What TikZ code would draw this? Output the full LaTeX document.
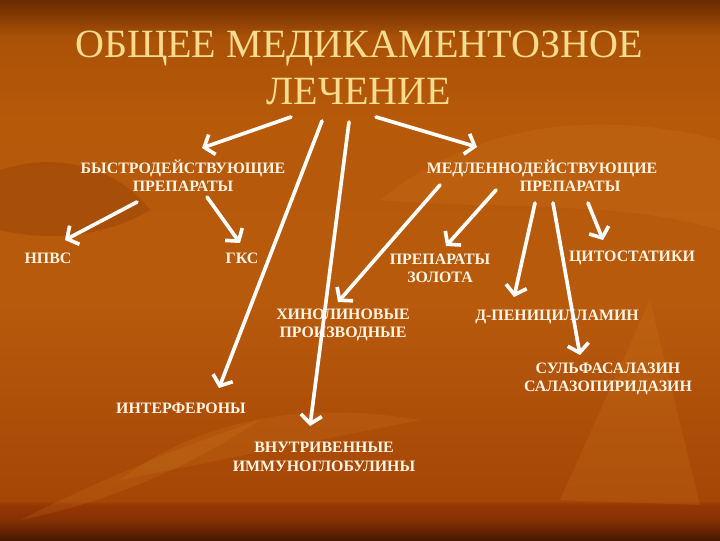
\documentclass[tikz,border=0pt]{standalone}
\usepackage{fontspec}
\setmainfont{Liberation Serif}
\usetikzlibrary{arrows.meta}
\usetikzlibrary{calc}
\definecolor{bgtop}{HTML}{6A2A00}
\definecolor{bgupper}{HTML}{B65909}
\definecolor{bgmid}{HTML}{B85A0C}
\definecolor{bglow}{HTML}{A54606}
\definecolor{bgband}{HTML}{973704}
\definecolor{bgbottom}{HTML}{4A1800}
\definecolor{leaflight}{HTML}{D98A2A}
\definecolor{leafdark}{HTML}{8A3A06}
\definecolor{titlegold}{HTML}{F6DC8E}
\definecolor{labeltext}{HTML}{FFF4E2}
\pgfdeclareverticalshading{slidebg}{100bp}{color(0bp)=(bgbottom); color(25bp)=(bgbottom);
  color(26.9bp)=(bgband!80!bgbottom); color(28.3bp)=(bgband); color(28.6bp)=(bglow);
  color(47bp)=(bgmid); color(64bp)=(bgupper); color(71.5bp)=(bgupper!85!bgtop);
  color(75bp)=(bgtop); color(100bp)=(bgtop)}
\tikzset{lbl/.style = {text=labeltext, font=\bfseries\fontsize{11.3}{13}\selectfont,
                       align=center, inner sep=0}}
\tikzset{arr/.style = {draw=white, line width=2.6pt, line cap=round,
                       -{Straight Barb[length=6pt, width=15pt, line width=2.6pt]}}}
\tikzset{leaf/.style = {fill=leaflight, opacity=0.16}}

\begin{document}
\begin{tikzpicture}[x=0.025cm, y=-0.025cm]
  \shade [shading=slidebg] (0, 0) rectangle (720, 540);
  \useasboundingbox (0, 0) rectangle (720, 540);

  \fill [leaf] (380, 200) .. controls (480, 120) and (600, 110) .. (720, 140) -- (720, 230) .. controls (620, 200) and (500, 210) .. cycle;
  \fill [leaf] (560, 500) -- (650, 300) -- (700, 505) -- cycle;
  \fill [leaf] (120, 480) .. controls (200, 420) and (300, 400) .. (420, 420) .. controls (320, 440) and (220, 460) .. cycle;
  \fill [fill=leafdark, opacity=0.35] (0, 170) .. controls (60, 150) and (120, 170) .. (150, 210) .. controls (100, 240) and (40, 240) .. (0, 230) -- cycle;
  \fill [leaf] (20, 520) .. controls (120, 470) and (200, 440) .. (260, 420) .. controls (200, 460) and (120, 500) .. cycle;

  \node [text=titlegold, font=\fontsize{28.5}{33.3}\selectfont, align=center, inner sep=0, anchor=south] (title) at (359, 105)
        {ОБЩЕЕ МЕДИКАМЕНТОЗНОЕ\\ЛЕЧЕНИЕ};

  \node [lbl] (fast) at (183, 176) {БЫСТРОДЕЙСТВУЮЩИЕ\\ПРЕПАРАТЫ};
  \node [lbl] (slow) at (542, 176) {МЕДЛЕННОДЕЙСТВУЮЩИЕ\\\hspace*{40pt}ПРЕПАРАТЫ};
  \node [lbl] (npvs) at (48, 258) {НПВС};
  \node [lbl] (gks) at (242, 258) {ГКС};
  \node [lbl] (gold) at (440, 268) {ПРЕПАРАТЫ\\ЗОЛОТА};
  \node [lbl] (cyto) at (632, 258) {ЦИТОСТАТИКИ};
  \node [lbl] (quin) at (343, 325) {ХИНОЛИНОВЫЕ\\ПРОИЗВОДНЫЕ};
  \node [lbl] (penic) at (557, 317) {Д-ПЕНИЦИЛЛАМИН};
  \node [lbl] (sulfa) at (608, 379) {СУЛЬФАСАЛАЗИН\\САЛАЗОПИРИДАЗИН};
  \node [lbl] (interf) at (181, 408) {ИНТЕРФЕРОНЫ};
  \node [lbl] (ivig) at (324, 457) {ВНУТРИВЕННЫЕ\\ИММУНОГЛОБУЛИНЫ};

  \draw [arr] ($(title.south)+(-68, 12)$) -- ($(fast)+(19, -28)$);
  \draw [arr] ($(title.south)+(17, 12)$) -- ($(slow)+(-65, -29)$);
  \draw [arr] ($(title.south)+(-37, 16)$) -- ($(interf)+(38, -20)$);
  \draw [arr] ($(title.south)+(-10, 17)$) -- ($(ivig)+(-14, -31)$);

  \draw [arr] ($(fast)+(-46, 26)$) -- ($(npvs)+(17, -18)$);
  \draw [arr] ($(fast)+(24, 21)$) -- ($(gks)+(-2, -15)$);

  \draw [arr] ($(slow)+(-102, 9)$) -- ($(quin)+(-5, -23)$);
  \draw [arr] ($(slow)+(-46, 14)$) -- ($(gold)+(6, -22)$);
  \draw [arr] ($(slow)+(-7, 27)$) -- ($(penic)+(-43, -20)$);
  \draw [arr] ($(slow)+(11, 27)$) -- ($(sulfa)+(-28, -24)$);
  \draw [arr] ($(slow)+(46, 27)$) -- ($(cyto)+(-29, -18)$);
\end{tikzpicture}
\end{document}
